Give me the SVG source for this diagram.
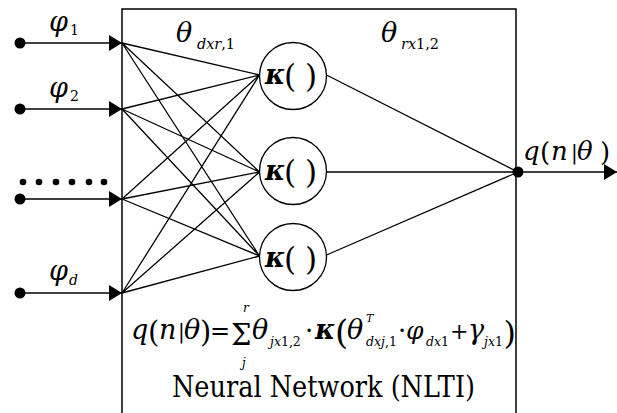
<svg xmlns="http://www.w3.org/2000/svg" width="617" height="413" viewBox="0 0 617 413" font-family="DejaVu Serif, serif">
<style>
.ln{stroke:#000;stroke-width:1.3;fill:none}
.box{stroke:#000;stroke-width:1.5;fill:none}
.node{stroke:#000;stroke-width:1.3;fill:#fff}
.m{font-style:italic}
.u{font-style:normal}
.k{font-style:italic;font-weight:bold}
.s{font-style:italic;font-size:12.5px}
</style>
<defs>
<marker id="arr" viewBox="0 0 13 16" refX="13" refY="8" markerWidth="13" markerHeight="16" markerUnits="userSpaceOnUse" orient="auto">
<path d="M0,0 L13,8 L0,16 Z" fill="#000"/>
</marker>
</defs>
<rect width="617" height="413" fill="#fff"/>
<g id="box">
<path class="box" d="M122,413 V9 H516 V413"/>
</g>
<g id="connectors">
<line class="ln" x1="20" y1="43" x2="122" y2="43" marker-end="url(#arr)"/>
<line class="ln" x1="20" y1="109" x2="122" y2="109" marker-end="url(#arr)"/>
<line class="ln" x1="20" y1="199" x2="122" y2="199" marker-end="url(#arr)"/>
<line class="ln" x1="20" y1="293" x2="122" y2="293" marker-end="url(#arr)"/>
<path class="ln" d="M122,43 L259.5,75 M122,43 L259.5,172 M122,43 L259.5,256
M122,109 L259.5,75 M122,109 L259.5,172 M122,109 L259.5,256
M122,199 L259.5,75 M122,199 L259.5,172 M122,199 L259.5,256
M122,293 L259.5,75 M122,293 L259.5,172 M122,293 L259.5,256"/>
<path class="ln" d="M326.5,75 L518,172 M326.5,172 L518,172 M326.5,255 L518,172"/>
<line class="ln" x1="518" y1="172" x2="617" y2="172" marker-end="url(#arr)"/>
</g>
<g id="inputs">
<circle cx="20" cy="43" r="5.5"/>
<circle cx="20" cy="109" r="5.5"/>
<circle cx="20" cy="199" r="5.5"/>
<circle cx="20" cy="293" r="5.5"/>
<g id="dots">
<circle cx="23" cy="182" r="3.3"/>
<circle cx="39" cy="182" r="3.3"/>
<circle cx="56" cy="182" r="3.3"/>
<circle cx="72" cy="182" r="3.3"/>
<circle cx="89" cy="182" r="3.3"/>
<circle cx="104" cy="182" r="3.3"/>
</g>
<text class="m" x="49" y="31" font-size="27">φ</text><text class="u" x="70" y="35" font-size="14">1</text>
<text class="m" x="49" y="97" font-size="27">φ</text><text class="u" x="70" y="101" font-size="14">2</text>
<text class="m" x="49" y="280" font-size="27">φ</text><text class="m" x="69" y="285" font-size="14">d</text>
</g>
<g id="labels">
<text class="m" x="176" y="42" font-size="27">θ</text><text class="m" x="197" y="49" font-size="15" textLength="38" lengthAdjust="spacingAndGlyphs">dxr<tspan class="u">,1</tspan></text>
<text class="m" x="381" y="42" font-size="27">θ</text><text class="m" x="401" y="49" font-size="15" textLength="38" lengthAdjust="spacingAndGlyphs">rx<tspan class="u">1,2</tspan></text>
</g>
<g id="node1">
<circle class="node" cx="293" cy="76" r="33.5"/>
<text class="k" x="265" y="84" font-size="27">κ</text>
<text class="u" x="284" y="87" font-size="31">(</text>
<text class="u" x="305" y="87" font-size="31">)</text>
</g>
<g id="node2">
<circle class="node" cx="293" cy="171" r="33.5"/>
<text class="k" x="265" y="180" font-size="27">κ</text>
<text class="u" x="284" y="183" font-size="31">(</text>
<text class="u" x="305" y="183" font-size="31">)</text>
</g>
<g id="node3">
<circle class="node" cx="293" cy="257" r="33.5"/>
<text class="k" x="265" y="267" font-size="27">κ</text>
<text class="u" x="284" y="270" font-size="31">(</text>
<text class="u" x="305" y="270" font-size="31">)</text>
</g>
<g id="output">
<circle cx="518" cy="172" r="5.5"/>
<text class="m" x="523" y="160" font-size="26">q</text>
<text class="u" x="540" y="161" font-size="26">(</text>
<text class="m" x="551" y="160" font-size="26">n</text>
<text class="u" x="571" y="159" font-size="20">|</text>
<text class="m" x="577" y="160" font-size="26">θ</text>
<text class="u" x="600" y="161" font-size="26">)</text>
</g>
<g id="formula">
<text class="m" x="131" y="339" font-size="27">q</text>
<text class="u" x="148" y="342" font-size="29">(</text>
<text class="m" x="159" y="339" font-size="27">n</text>
<text class="u" x="178" y="338" font-size="20">|</text>
<text class="m" x="184" y="339" font-size="27">θ</text>
<text class="u" x="200" y="342" font-size="29">)</text>
<text class="u" x="210" y="339" font-size="24">=</text>
<text class="u" x="231" y="345" font-size="29">Σ</text>
<text class="m" x="243" y="312" font-size="12">r</text>
<text class="m" x="242" y="367" font-size="12">j</text>
<text class="m" x="252" y="339" font-size="27">θ</text>
<text class="s" x="270" y="346">jx<tspan class="u">1,2</tspan></text>
<text class="u" x="305" y="339" font-size="26">·</text>
<text class="k" x="315" y="339" font-size="27">κ</text>
<text class="u" x="335" y="344" font-size="34">(</text>
<text class="m" x="347" y="339" font-size="27">θ</text>
<text class="m" x="366" y="322" font-size="11">T</text>
<text class="s" x="366" y="346">dxj<tspan class="u">,1</tspan></text>
<text class="u" x="398" y="339" font-size="26">·</text>
<text class="m" x="406" y="339" font-size="25">φ</text>
<text class="s" x="426" y="346">dx<tspan class="u">1</tspan></text>
<text class="u" x="450" y="339" font-size="22">+</text>
<text class="m" x="468" y="339" font-size="27">γ</text>
<text class="s" x="484" y="346">jx<tspan class="u">1</tspan></text>
<text class="u" x="503.5" y="344" font-size="32">)</text>
</g>
<g id="title">
<text class="u" x="172" y="397" font-size="29" textLength="303" lengthAdjust="spacingAndGlyphs">Neural Network (NLTI)</text>
</g>
</svg>
